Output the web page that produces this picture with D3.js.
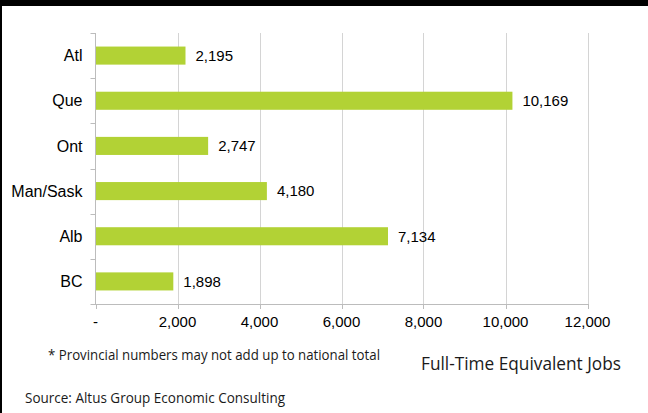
<!DOCTYPE html>
<html><head><meta charset="utf-8">
<script src="https://cdn.jsdelivr.net/npm/d3@7"></script>
<style>body{margin:0;background:#fff}svg{display:block}</style>
</head><body>
<svg id="c" width="648" height="413"></svg>
<script>
const categories = ["Atl","Que","Ont","Man/Sask","Alb","BC"];
const values = [2195,10169,2747,4180,7134,1898];
const tickValues = [0,2000,4000,6000,8000,10000,12000];
const tickLabels = ["-","2,000","4,000","6,000","8,000","10,000","12,000"];
const footnote = "* Provincial numbers may not add up to national total";
const axisTitle = "Full-Time Equivalent Jobs";
const source = "Source: Altus Group Economic Consulting";

const svg = d3.select("#c");
const x = d3.scaleLinear().domain([0,12000]).range([95.5,587.5]);
const y = d3.scaleBand().domain(categories).range([33,304]).paddingInner(0.6).paddingOuter(0.3);
const bandTop = 33;

// gridlines
svg.append("g").selectAll("line").data(tickValues.slice(1)).join("line")
  .attr("x1",d=>Math.round(x(d))+0.5).attr("x2",d=>Math.round(x(d))+0.5)
  .attr("y1",33).attr("y2",304).attr("stroke","#d4d4d4").attr("stroke-width",1);

// bars
svg.append("g").selectAll("rect").data(values).join("rect")
  .attr("x",x(0)).attr("y",(d,i)=>y(categories[i]))
  .attr("width",d=>x(d)-x(0)).attr("height",y.bandwidth())
  .attr("fill","#b2d235");

// value labels
svg.append("g").selectAll("text").data(values).join("text")
  .attr("x",d=>x(d)+10).attr("y",(d,i)=>y(categories[i])+y.bandwidth()/2)
  .attr("dy","0.35em").attr("font-family","Liberation Sans, Arial, sans-serif")
  .attr("font-size",15).attr("fill","#000").text(d=>d3.format(",")(d));

// y axis line and ticks
const axisCol = "#bcbcbc";
svg.append("line").attr("x1",95.5).attr("x2",95.5).attr("y1",33).attr("y2",304).attr("stroke",axisCol);
const yTicks = d3.range(categories.length+1).map(i=>bandTop + i*(271/categories.length));
svg.append("g").selectAll("line").data(yTicks).join("line")
  .attr("x1",90.5).attr("x2",95.5).attr("y1",d=>Math.round(d)+0.5).attr("y2",d=>Math.round(d)+0.5).attr("stroke",axisCol);

// category labels
svg.append("g").selectAll("text").data(categories).join("text")
  .attr("x",82.5).attr("y",d=>y(d)+y.bandwidth()/2).attr("dy","0.35em")
  .attr("text-anchor","end").attr("font-family","Liberation Sans, Arial, sans-serif")
  .attr("font-size",16).attr("fill","#000").text(d=>d);

// x axis line and ticks
svg.append("line").attr("x1",91).attr("x2",588).attr("y1",304.5).attr("y2",304.5).attr("stroke",axisCol);
svg.append("g").selectAll("line").data(tickValues).join("line")
  .attr("x1",d=>Math.round(x(d))+0.5).attr("x2",d=>Math.round(x(d))+0.5)
  .attr("y1",304).attr("y2",309).attr("stroke",axisCol);
svg.append("g").selectAll("text").data(tickValues).join("text")
  .attr("x",d=>x(d)).attr("y",322).attr("dy","0.35em").attr("text-anchor","middle")
  .attr("font-family","Liberation Sans, Arial, sans-serif").attr("font-size",15).attr("fill","#000")
  .text((d,i)=>tickLabels[i]);

// footnotes
svg.append("text").attr("x",48).attr("y",360).attr("font-family","Open Sans, sans-serif")
  .attr("font-size",15).attr("textLength",332).attr("lengthAdjust","spacingAndGlyphs").attr("fill","#1a1a1a").text(footnote);
svg.append("text").attr("x",421).attr("y",369.5).attr("font-family","Open Sans, sans-serif")
  .attr("font-size",18).attr("textLength",200).attr("lengthAdjust","spacingAndGlyphs").attr("fill","#1a1a1a").text(axisTitle);
svg.append("text").attr("x",25).attr("y",403).attr("font-family","Open Sans, sans-serif")
  .attr("font-size",15).attr("textLength",260).attr("lengthAdjust","spacingAndGlyphs").attr("fill","#1a1a1a").text(source);

// frame: top black bar and left border
svg.append("rect").attr("x",0).attr("y",0).attr("width",648).attr("height",6).attr("fill","#000");
svg.append("rect").attr("x",0).attr("y",0).attr("width",2).attr("height",413).attr("fill","#000");
</script>
</body></html>
